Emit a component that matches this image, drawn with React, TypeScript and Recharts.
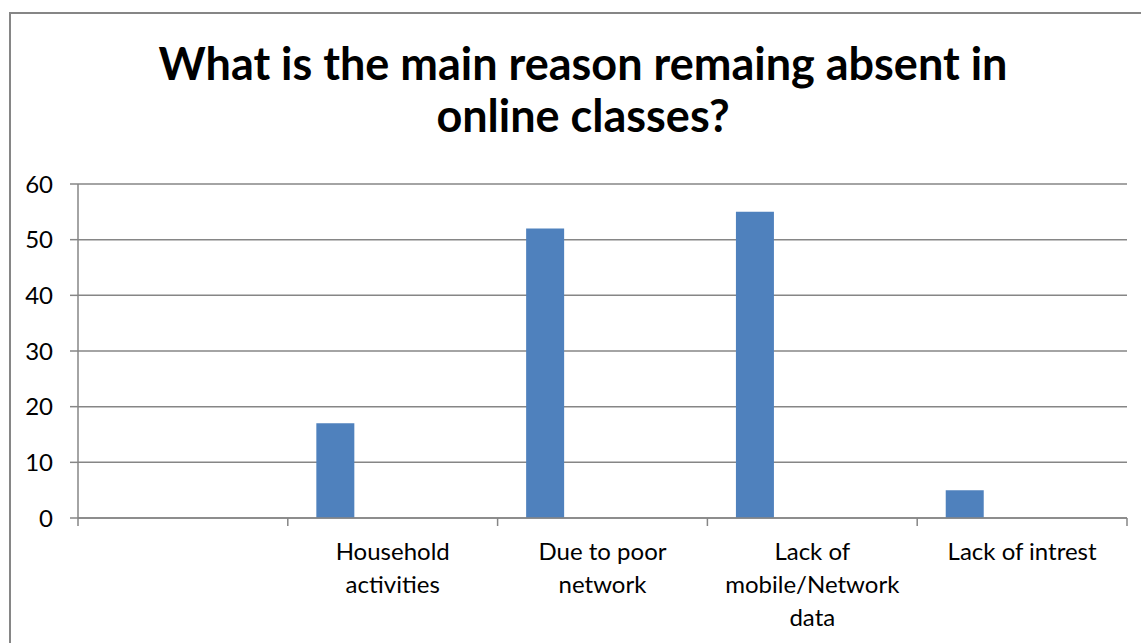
import { BarChart, Bar, XAxis, YAxis, CartesianGrid } from 'recharts';

const categories = ['', 'Household activities', 'Due to poor network', 'Lack of mobile/Network data', 'Lack of intrest'];
const absentCounts = [null, 17, 52, 55, 5];
// the sheet had empty companion series, which is why the bars sit left in each slot
const emptySeries = [null, null, null, null, null];
const yTicks = [0, 10, 20, 30, 40, 50, 60];

const TITLE = 'What is the main reason remaing absent in online classes?';

const WIDTH = 1141;
const HEIGHT = 643;
const PLOT_LEFT = 78;
const PLOT_RIGHT = 1127;
const PLOT_TOP = 184;
const PLOT_BOTTOM = 518;
const PLOT_W = PLOT_RIGHT - PLOT_LEFT;
const TICK = 8;
const LABEL_SIZE = 24;
const LABEL_WRAP = 175;

const BAR_BLUE = '#4F81BD';
const LINE_GREY = '#868686';
const FONT = 'Lato, "Open Sans", sans-serif';

const data = categories.map((name, i) => ({
  name,
  count: absentCounts[i],
  s2: emptySeries[i],
  s3: emptySeries[i],
  s4: emptySeries[i],
}));

let measureCtx: CanvasRenderingContext2D | null = null;
function textWidth(s: string) {
  if (!measureCtx) measureCtx = document.createElement('canvas').getContext('2d');
  if (!measureCtx) return s.length * LABEL_SIZE * 0.5;
  measureCtx.font = `${LABEL_SIZE}px Lato`;
  return measureCtx.measureText(s).width;
}

// greedy word wrap, like Excel does for category labels
function wrapLabel(label: string, maxWidth: number) {
  const lines: string[] = [];
  let cur = '';
  label.split(' ').forEach((w) => {
    const next = cur ? `${cur} ${w}` : w;
    if (cur && textWidth(next) > maxWidth) {
      lines.push(cur);
      cur = w;
    } else {
      cur = next;
    }
  });
  if (cur) lines.push(cur);
  return lines;
}

function CategoryTick(props: any) {
  const { x, y, index } = props;
  const band = PLOT_W / categories.length;
  const left = x - band / 2;
  const right = x + band / 2;
  const isLast = index === categories.length - 1;
  const lines = wrapLabel(String(props.payload.value ?? ''), LABEL_WRAP);
  return (
    <g>
      <line x1={left} x2={left} y1={y - TICK} y2={y} stroke={LINE_GREY} strokeWidth={1.5} />
      {isLast && <line x1={right} x2={right} y1={y - TICK} y2={y} stroke={LINE_GREY} strokeWidth={1.5} />}
      <text x={x} y={y + 34} textAnchor="middle" fill="#000" fontSize={LABEL_SIZE} fontFamily={FONT}>
        {lines.map((ln, i) => (
          <tspan key={i} x={x} dy={i === 0 ? 0 : 33}>
            {ln}
          </tspan>
        ))}
      </text>
    </g>
  );
}

export default function App() {
  return (
    <div
      style={{
        position: 'fixed',
        left: 0,
        top: 0,
        width: WIDTH,
        height: HEIGHT,
        overflow: 'hidden',
        background: '#fff',
        fontFamily: FONT,
      }}
    >
      {/* chart frame runs off the right and bottom of the picture */}
      <div
        style={{
          position: 'absolute',
          left: 9,
          top: 12,
          width: 1200,
          height: 700,
          border: `2px solid ${LINE_GREY}`,
        }}
      />
      <div
        style={{
          position: 'absolute',
          left: 133,
          top: 37,
          width: 900,
          textAlign: 'center',
          fontWeight: 700,
          fontSize: 45,
          lineHeight: '52px',
          color: '#000',
        }}
      >
        {TITLE}
      </div>
      <div style={{ position: 'absolute', left: 0, top: 0 }}>
        <BarChart
          width={WIDTH}
          height={HEIGHT}
          data={data}
          margin={{ top: PLOT_TOP, right: WIDTH - PLOT_RIGHT, bottom: 0, left: 0 }}
          barCategoryGap="13.6%"
          barGap={0}
        >
          <CartesianGrid horizontal vertical={false} stroke={LINE_GREY} strokeWidth={1.5} />
          <XAxis
            dataKey="name"
            height={HEIGHT - PLOT_BOTTOM}
            axisLine={{ stroke: LINE_GREY, strokeWidth: 1.5 }}
            tickLine={false}
            tickSize={TICK}
            tickMargin={0}
            interval={0}
            tick={<CategoryTick />}
          />
          <YAxis
            width={PLOT_LEFT}
            domain={[0, 60]}
            ticks={yTicks}
            interval={0}
            axisLine={{ stroke: LINE_GREY, strokeWidth: 1.5 }}
            tickLine={{ stroke: LINE_GREY, strokeWidth: 1.5 }}
            tickSize={TICK}
            tickMargin={17}
            tick={{ fontSize: 24, fill: '#000', fontFamily: FONT }}
          />
          <Bar dataKey="count" fill={BAR_BLUE} isAnimationActive={false} />
          <Bar dataKey="s2" fill={BAR_BLUE} isAnimationActive={false} />
          <Bar dataKey="s3" fill={BAR_BLUE} isAnimationActive={false} />
          <Bar dataKey="s4" fill={BAR_BLUE} isAnimationActive={false} />
        </BarChart>
      </div>
    </div>
  );
}
